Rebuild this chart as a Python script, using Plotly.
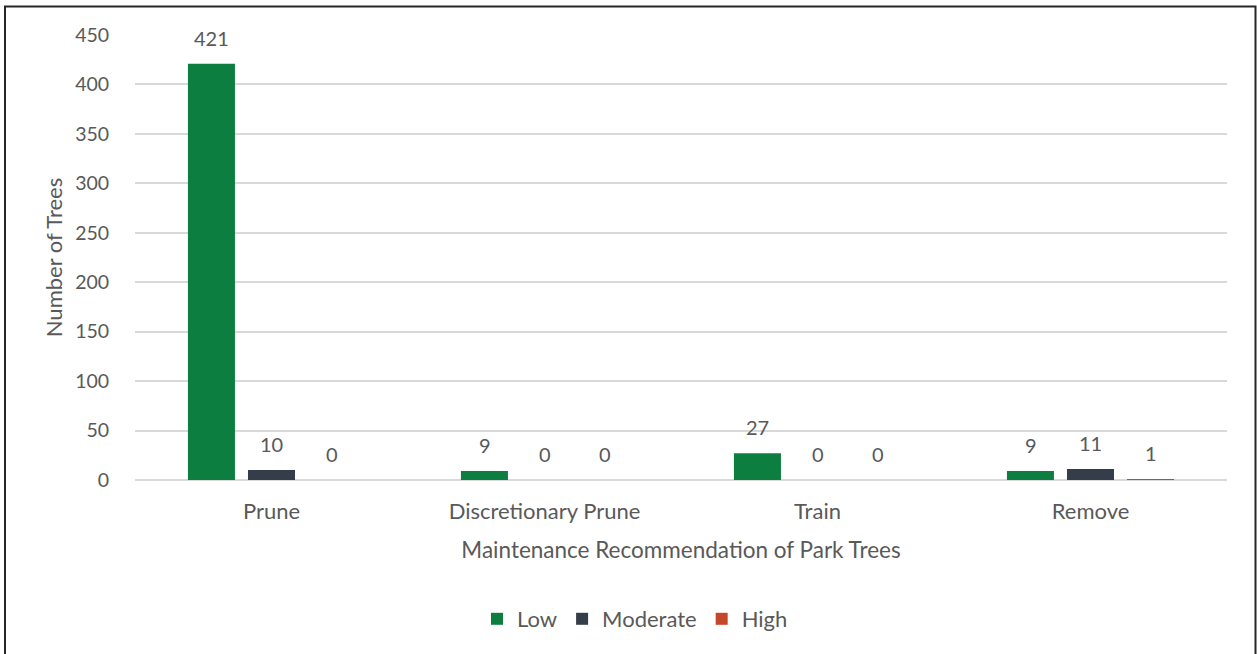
import plotly.graph_objects as go

categories = ["Prune", "Discretionary Prune", "Train", "Remove"]
low = [421, 9, 27, 9]
moderate = [10, 0, 0, 11]
high = [0, 0, 0, 1]

series = [("Low", low, "#0B7E40"), ("Moderate", moderate, "#363D4A"), ("High", high, "#C5472A")]

FONT = "Lato"
GRAY = "#595959"

L, R, T, B = 135, 30, 35, 174
W, H = 1257, 654
pw, ph = W - L - R, H - T - B
slot_px = 60  # spacing between bar centers in a group

def px_x(p):
    return (p - L) / pw

def px_y(p):
    return (H - B - p) / ph

fig = go.Figure()
annotations = []
for si, (name, vals, col) in enumerate(series):
    fig.add_trace(go.Bar(
        x=categories, y=vals, name=name, marker=dict(color=col, line=dict(width=0)),
    ))
    for cat, v in zip(categories, vals):
        annotations.append(dict(
            x=cat, y=v, xref="x", yref="y", text=str(v), showarrow=False,
            xshift=(si - 1) * slot_px, yshift=26, yanchor="middle",
            font=dict(family=FONT, size=20, color=GRAY),
        ))

fig.update_layout(
    width=W, height=H, margin=dict(l=L, r=R, t=T, b=B),
    paper_bgcolor="white", plot_bgcolor="white",
    barmode="group", bargap=0.34, bargroupgap=0.217,
    font=dict(family=FONT, size=20, color=GRAY),
    showlegend=True,
    legend=dict(orientation="h", x=px_x(635), xanchor="center", y=px_y(619), yanchor="middle",
                font=dict(family=FONT, size=22, color=GRAY), itemclick=False),
    xaxis=dict(title=dict(text="Maintenance Recommendation of Park Trees", standoff=18,
                          font=dict(family=FONT, size=22.5, color=GRAY)),
               tickfont=dict(family=FONT, size=22, color=GRAY), showline=False,
               ticks="outside", ticklen=12, tickcolor="rgba(0,0,0,0)",
               showgrid=False),
    yaxis=dict(title=dict(text="Number of Trees", standoff=6,
                          font=dict(family=FONT, size=22, color=GRAY)),
               range=[0, 450], dtick=50, tickfont=dict(family=FONT, size=19.5, color=GRAY),
               showgrid=True, gridcolor="#D9D9D9", gridwidth=2, zeroline=True,
               zerolinecolor="#D9D9D9", zerolinewidth=2,
               ticks="outside", ticklen=21, tickcolor="rgba(0,0,0,0)"),
    annotations=annotations,
    shapes=[dict(type="rect", xref="paper", yref="paper",
                 x0=px_x(5), x1=px_x(1255.5), y0=px_y(670), y1=px_y(6.5),
                 line=dict(color="#262626", width=2), fillcolor="rgba(0,0,0,0)", layer="above")],
)

fig.write_html("out.html")
